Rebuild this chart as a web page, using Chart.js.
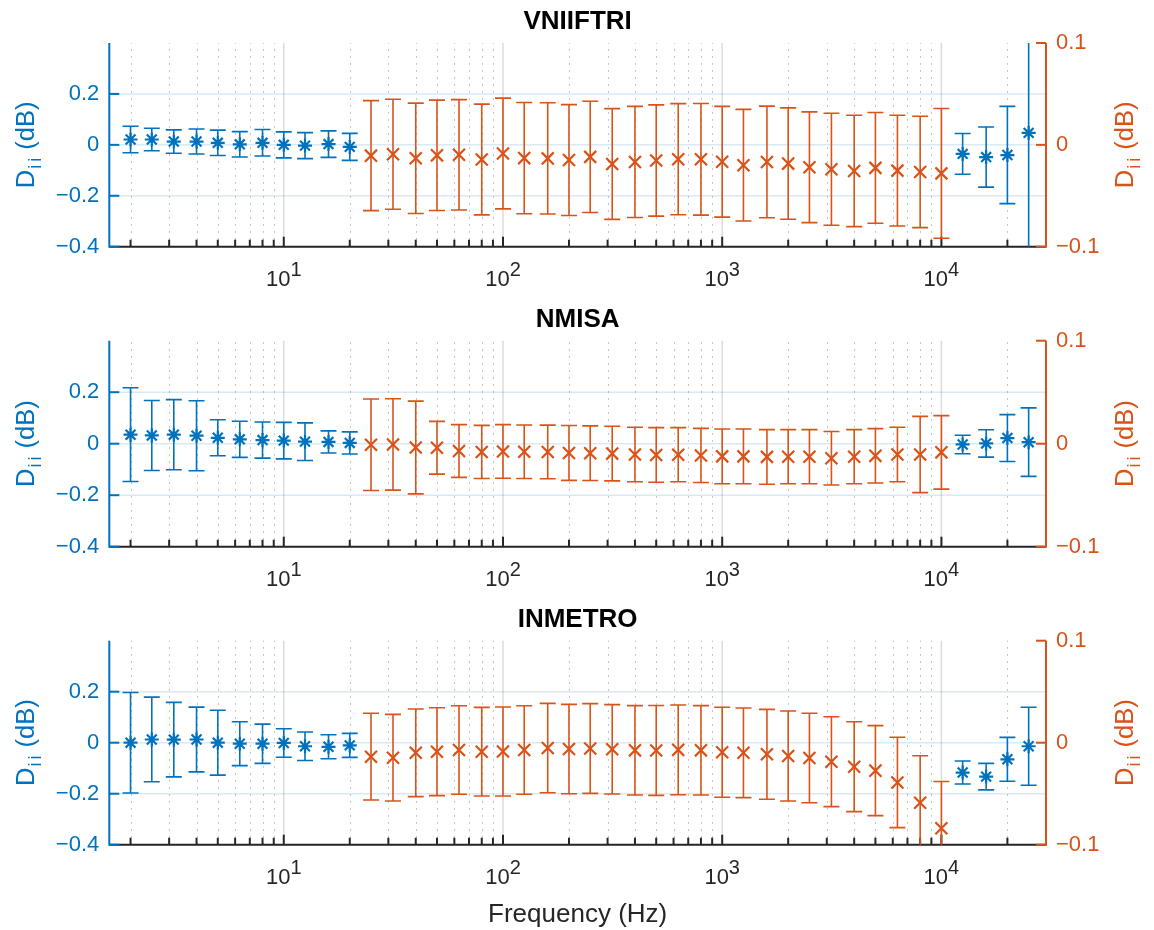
<!DOCTYPE html>
<html>
<head>
<meta charset="utf-8">
<script src="https://cdn.jsdelivr.net/npm/chart.js@4.4.1/dist/chart.umd.min.js"></script>
<style>
  body { margin: 0; background: #fff; }
  .panel { position: absolute; left: 0; width: 1154px; }
</style>
</head>
<body>
<div class="panel" style="top:0px;height:300px"><canvas id="vniiftri"></canvas></div>
<div class="panel" style="top:298px;height:300px"><canvas id="nmisa"></canvas></div>
<div class="panel" style="top:598px;height:332px"><canvas id="inmetro"></canvas></div>
<script>
// frequencies (Hz)
const blueFreq = [2, 2.5, 3.15, 4, 5, 6.3, 8, 10, 12.5, 16, 20, 12500, 16000, 20000, 25000];
const orangeFreq = [25, 31.5, 40, 50, 63, 80, 100, 125, 160, 200, 250, 315, 400, 500, 630,
  800, 1000, 1250, 1600, 2000, 2500, 3150, 4000, 5000, 6300, 8000, 10000];

// tick values
const leftTicks = [-0.4, -0.2, 0, 0.2];
const rightTicks = [-0.1, 0, 0.1];
const decadeTicks = [10, 100, 1000, 10000];
const minorTicks = [2, 3, 4, 5, 6, 7, 8, 9, 20, 30, 40, 50, 60, 70, 80, 90,
  200, 300, 400, 500, 600, 700, 800, 900, 2000, 3000, 4000, 5000, 6000, 7000, 8000, 9000, 20000];

// VNIIFTRI
const vniiftriBlue = [0.021, 0.021, 0.013, 0.013, 0.008, 0.002, 0.008, 0.0, -0.003, 0.003, -0.008,
  -0.0355, -0.048, -0.040, 0.047];
const vniiftriBlueErr = [0.052, 0.044, 0.046, 0.049, 0.050, 0.050, 0.052, 0.051, 0.051, 0.052, 0.053,
  0.080, 0.118, 0.191, 0.5];
const vniiftriOrange = [-0.0106, -0.0093, -0.0132, -0.0103, -0.0098, -0.0144, -0.0085, -0.0130, -0.0133,
  -0.0149, -0.0118, -0.0188, -0.0168, -0.0154, -0.0141, -0.0142, -0.0166, -0.0200, -0.0168, -0.0184,
  -0.0220, -0.0240, -0.0256, -0.0226, -0.0253, -0.0266, -0.0280];
const vniiftriOrangeErr = [0.054, 0.054, 0.0542, 0.0542, 0.0542, 0.0544, 0.0544, 0.0546, 0.0546, 0.0544,
  0.0546, 0.0544, 0.0546, 0.0546, 0.0546, 0.0548, 0.0544, 0.0548, 0.0548, 0.0547, 0.0544, 0.055,
  0.0547, 0.0544, 0.0544, 0.0547, 0.0637];

// NMISA
const nmisaBlue = [0.035, 0.032, 0.035, 0.031, 0.023, 0.017, 0.014, 0.012, 0.008, 0.007, 0.003,
  -0.003, 0.001, 0.022, 0.006];
const nmisaBlueErr = [0.182, 0.136, 0.136, 0.136, 0.070, 0.070, 0.070, 0.071, 0.073, 0.043, 0.043,
  0.036, 0.053, 0.091, 0.133];
const nmisaOrange = [-0.001, -0.0007, -0.0037, -0.0039, -0.0071, -0.008, -0.0075, -0.0078, -0.008,
  -0.009, -0.0092, -0.0096, -0.0105, -0.0109, -0.0107, -0.0114, -0.0123, -0.0123, -0.0128, -0.0126,
  -0.0126, -0.0141, -0.0126, -0.0118, -0.0105, -0.0105, -0.0084];
const nmisaOrangeErr = [0.0444, 0.0444, 0.045, 0.0256, 0.0256, 0.0258, 0.026, 0.026, 0.026, 0.0266,
  0.0265, 0.0265, 0.0265, 0.0265, 0.0263, 0.0263, 0.0266, 0.0266, 0.0265, 0.0263, 0.0263, 0.026,
  0.0263, 0.0264, 0.0264, 0.037, 0.0357];

// INMETRO
const inmetroBlue = [0.0, 0.0126, 0.012, 0.0126, 0.0, -0.004, -0.004, -0.001, -0.014, -0.016, -0.0105,
  -0.117, -0.133, -0.065, -0.014];
const inmetroBlueErr = [0.197, 0.166, 0.146, 0.127, 0.127, 0.086, 0.077, 0.056, 0.056, 0.047, 0.047,
  0.045, 0.052, 0.086, 0.153];
const inmetroOrange = [-0.0137, -0.0147, -0.0099, -0.0088, -0.0072, -0.0088, -0.0086, -0.0072, -0.0052,
  -0.0062, -0.0057, -0.0065, -0.0075, -0.0076, -0.007, -0.0075, -0.0094, -0.0099, -0.0114, -0.013,
  -0.015, -0.0186, -0.0235, -0.0274, -0.039, -0.0588, -0.0839];
const inmetroOrangeErr = [0.0425, 0.0425, 0.043, 0.0431, 0.0434, 0.0434, 0.0436, 0.0434, 0.0438, 0.0438,
  0.044, 0.0438, 0.0438, 0.044, 0.044, 0.0438, 0.0441, 0.0439, 0.0441, 0.0441, 0.0438, 0.0441,
  0.0441, 0.0441, 0.0443, 0.046, 0.0458];

const BLUE = "#0072BD";
const ORANGE = "#D95319";
const AXIS = "#262626";
const FONT = '"Liberation Sans", Arial, sans-serif';

function strokeLine(ctx, x1, y1, x2, y2) {
  ctx.beginPath();
  ctx.moveTo(x1, y1);
  ctx.lineTo(x2, y2);
  ctx.stroke();
}

// MATLAB-style tick text: true minus sign for negatives
function tickText(v) {
  return v < 0 ? "\u2212" + String(-v) : String(v);
}

function drawYTitle(ctx, bx, cy, color) {
  ctx.save();
  ctx.translate(bx, cy);
  ctx.rotate(-Math.PI / 2);
  ctx.fillStyle = color;
  ctx.textAlign = "left";
  ctx.textBaseline = "alphabetic";
  const big = `25.5px ${FONT}`;
  const small = `18px ${FONT}`;
  ctx.font = big;
  const wD = ctx.measureText("D").width;
  const wRest = ctx.measureText(" (dB)").width;
  ctx.font = small;
  const wi = ctx.measureText("i").width;
  const wSub = 2 * wi + 5;
  let u = -(wD + wSub + wRest) / 2;
  ctx.font = big;
  ctx.fillText("D", u, 0);
  u += wD + 1;
  ctx.font = small;
  ctx.fillText("i", u, 7);
  ctx.fillText("i", u + wi + 3, 7);
  u += wSub - 1;
  ctx.font = big;
  ctx.fillText(" (dB)", u, 0);
  ctx.restore();
}

// grid, axes and error bars drawn off the chart's own scales
const panelDecor = {
  id: "panelDecor",
  beforeDatasetsDraw(chart) {
    const { ctx, chartArea: a, scales } = chart;
    const x = scales.x;
    const yl = scales.y;
    const yr = scales.y1;
    ctx.save();

    // minor vertical grid (dotted)
    ctx.strokeStyle = "rgba(0,0,0,0.30)";
    ctx.lineWidth = 1;
    ctx.setLineDash([1.5, 5.5]);
    minorTicks.forEach((v) => {
      const px = Math.round(x.getPixelForValue(v)) + 0.5;
      strokeLine(ctx, px, a.bottom, px, a.top);
    });
    ctx.setLineDash([]);

    // major vertical grid
    ctx.strokeStyle = "rgba(0,0,0,0.14)";
    ctx.lineWidth = 1.5;
    decadeTicks.forEach((v) => {
      const px = x.getPixelForValue(v);
      strokeLine(ctx, px, a.bottom, px, a.top);
    });

    // horizontal grid from the left axis
    ctx.strokeStyle = "rgba(0,114,189,0.15)";
    ctx.lineWidth = 1.5;
    leftTicks.forEach((v) => {
      const py = yl.getPixelForValue(v);
      strokeLine(ctx, a.left, py, a.right, py);
    });

    // bottom axis + ticks (inward)
    ctx.strokeStyle = AXIS;
    ctx.lineWidth = 2;
    strokeLine(ctx, a.left, a.bottom, a.right, a.bottom);
    decadeTicks.forEach((v) => {
      const px = x.getPixelForValue(v);
      strokeLine(ctx, px, a.bottom, px, a.bottom - 10);
    });
    minorTicks.forEach((v) => {
      const px = x.getPixelForValue(v);
      strokeLine(ctx, px, a.bottom, px, a.bottom - 7);
    });

    // left axis
    ctx.strokeStyle = BLUE;
    strokeLine(ctx, a.left, a.top, a.left, a.bottom + 1);
    leftTicks.forEach((v) => {
      const py = yl.getPixelForValue(v);
      strokeLine(ctx, a.left, py, a.left + 10, py);
    });

    // right axis
    ctx.strokeStyle = ORANGE;
    strokeLine(ctx, a.right, a.top, a.right, a.bottom + 1);
    rightTicks.forEach((v) => {
      const py = yr.getPixelForValue(v);
      strokeLine(ctx, a.right, py, a.right - 10, py);
    });

    // error bars, clipped to the plot box
    ctx.beginPath();
    ctx.rect(a.left, a.top, a.right - a.left, a.bottom - a.top);
    ctx.clip();
    ctx.lineWidth = 1.6;
    chart.data.datasets.forEach((ds) => {
      const ys = scales[ds.yAxisID];
      ctx.strokeStyle = ds.borderColor;
      ds.data.forEach((pt, i) => {
        const e = ds.errors[i];
        const px = x.getPixelForValue(pt.x);
        const top = ys.getPixelForValue(pt.y + e);
        const bot = ys.getPixelForValue(pt.y - e);
        ctx.beginPath();
        ctx.moveTo(px, top);
        ctx.lineTo(px, bot);
        ctx.moveTo(px - 8, top);
        ctx.lineTo(px + 8, top);
        ctx.moveTo(px - 8, bot);
        ctx.lineTo(px + 8, bot);
        ctx.stroke();
      });
    });
    ctx.restore();
  },
  afterDraw(chart, args, opts) {
    const { ctx, chartArea: a, scales } = chart;
    const x = scales.x;
    const cx = (a.left + a.right) / 2;
    const cy = (a.top + a.bottom) / 2;
    ctx.save();

    ctx.fillStyle = "#000";
    ctx.font = `bold 26px ${FONT}`;
    ctx.textAlign = "center";
    ctx.textBaseline = "alphabetic";
    ctx.fillText(opts.title, cx, a.top - 13.7);

    // 10^n labels
    ctx.fillStyle = AXIS;
    ctx.textAlign = "left";
    decadeTicks.forEach((v) => {
      const px = x.getPixelForValue(v);
      const exp = String(Math.round(Math.log10(v)));
      ctx.font = `22px ${FONT}`;
      const wb = ctx.measureText("10").width;
      ctx.font = `20px ${FONT}`;
      const we = ctx.measureText(exp).width;
      const sx = px - (wb + we) / 2;
      ctx.font = `22px ${FONT}`;
      ctx.fillText("10", sx, a.bottom + 39);
      ctx.font = `20px ${FONT}`;
      ctx.fillText(exp, sx + wb, a.bottom + 29);
    });

    drawYTitle(ctx, 33.5, cy, BLUE);
    drawYTitle(ctx, 1133, cy, ORANGE);

    if (opts.xLabel) {
      ctx.font = `26px ${FONT}`;
      ctx.textAlign = "center";
      ctx.fillStyle = AXIS;
      ctx.fillText("Frequency (Hz)", cx, a.bottom + 77);
    }
    ctx.restore();
  },
};

function makePanel(id, title, blue, blueErr, orange, orangeErr, padTop, padBottom, xLabel) {
  return new Chart(document.getElementById(id), {
    type: "scatter",
    data: {
      datasets: [
        {
          label: "blue",
          data: blueFreq.map((f, i) => ({ x: f, y: blue[i] })),
          errors: blueErr,
          yAxisID: "y",
          pointStyle: "star",
          pointRadius: 7,
          pointBorderWidth: 2.2,
          borderColor: BLUE,
          backgroundColor: BLUE,
        },
        {
          label: "orange",
          data: orangeFreq.map((f, i) => ({ x: f, y: orange[i] })),
          errors: orangeErr,
          yAxisID: "y1",
          pointStyle: "crossRot",
          pointRadius: 8.5,
          pointBorderWidth: 2.2,
          borderColor: ORANGE,
          backgroundColor: ORANGE,
        },
      ],
    },
    options: {
      responsive: true,
      maintainAspectRatio: false,
      animation: false,
      devicePixelRatio: 1,
      layout: { padding: { top: padTop, bottom: padBottom, left: 0, right: 0 } },
      plugins: {
        legend: { display: false },
        tooltip: { enabled: false },
        panelDecor: { title: title, xLabel: xLabel },
      },
      scales: {
        x: {
          type: "logarithmic",
          min: 1.6,
          max: 30000,
          bounds: "data",
          display: false,
        },
        y: {
          position: "left",
          min: -0.4,
          max: 0.4,
          afterBuildTicks: (s) => {
            s.ticks = leftTicks.map((v) => ({ value: v }));
          },
          afterFit: (s) => {
            s.width = 109.3;
          },
          grid: { display: false, drawTicks: false },
          border: { display: false },
          ticks: {
            color: BLUE,
            padding: 10,
            font: { family: FONT, size: 22 },
            callback: (v) => tickText(v),
          },
        },
        y1: {
          position: "right",
          min: -0.1,
          max: 0.1,
          afterBuildTicks: (s) => {
            s.ticks = rightTicks.map((v) => ({ value: v }));
          },
          afterFit: (s) => {
            s.width = 108;
          },
          grid: { display: false, drawTicks: false },
          border: { display: false },
          ticks: {
            color: ORANGE,
            padding: 10,
            font: { family: FONT, size: 22 },
            callback: (v) => tickText(v),
          },
        },
      },
    },
    plugins: [panelDecor],
  });
}

makePanel("vniiftri", "VNIIFTRI", vniiftriBlue, vniiftriBlueErr, vniiftriOrange, vniiftriOrangeErr, 43, 53.3, false);
makePanel("nmisa", "NMISA", nmisaBlue, nmisaBlueErr, nmisaOrange, nmisaOrangeErr, 42.7, 51.3, false);
makePanel("inmetro", "INMETRO", inmetroBlue, inmetroBlueErr, inmetroOrange, inmetroOrangeErr, 42.7, 85.3, true);
</script>
</body>
</html>
